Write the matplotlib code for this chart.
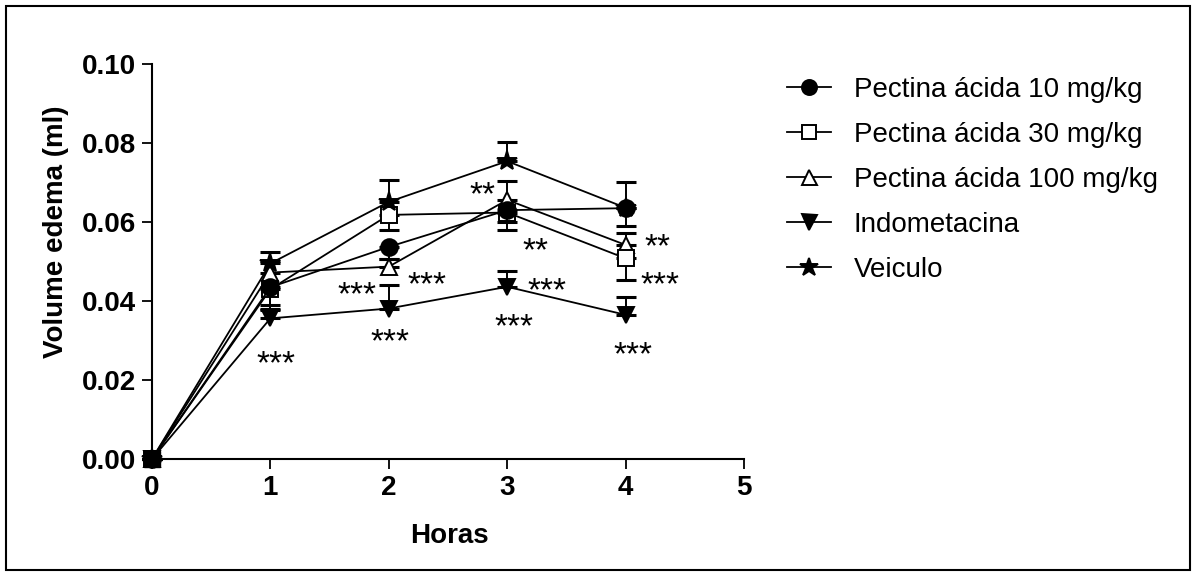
import matplotlib
matplotlib.use('Agg')
import matplotlib.pyplot as plt
from matplotlib.patches import Rectangle

plt.rcParams['font.family'] = ['Liberation Sans', 'DejaVu Sans']

# Data
hours = [0, 1, 2, 3, 4]

p10 = [0, 0.0435, 0.0537, 0.0630, 0.0635]
p10_lo = [0, 0.0045, 0.0030, 0.0030, 0.0044]

p30 = [0, 0.0430, 0.0618, 0.0624, 0.0508]
p30_lo = [0, 0.0050, 0.0037, 0.0043, 0.0055]

p100 = [0, 0.0472, 0.0487, 0.0656, 0.0542]
p100_hi = [0, 0.0030, 0.0020, 0.0048, 0.0030]

indo = [0, 0.0356, 0.0381, 0.0436, 0.0365]
indo_hi = [0, 0.0021, 0.0059, 0.0040, 0.0046]

veic = [0, 0.0495, 0.0651, 0.0754, 0.0636]
veic_hi = [0, 0.0030, 0.0055, 0.0049, 0.0066]

labels = ['Pectina ácida 10 mg/kg', 'Pectina ácida 30 mg/kg',
          'Pectina ácida 100 mg/kg', 'Indometacina', 'Veiculo']

# significance marks (text, x, y of ink centre)
sig_text = ['***', '***', '***', '***', '**', '**', '***', '***', '**', '***', '***']
sig_x = [1.05, 1.73, 2.32, 2.01, 2.79, 3.24, 3.34, 3.06, 4.27, 4.29, 4.06]
sig_y = [0.0266, 0.0441, 0.0466, 0.0322, 0.0694, 0.0553, 0.0451, 0.0359, 0.0563, 0.0466, 0.0289]

fig = plt.figure(figsize=(11.97, 5.76), dpi=100)
ax = fig.add_axes([152 / 1197, 1 - 459 / 576, 592 / 1197, 395 / 576])

lw = 1.3
common = dict(color='black', lw=lw, mew=1.4, clip_on=False)
err = dict(fmt='none', ecolor='black', elinewidth=1.4, capsize=7.5, capthick=2.2, clip_on=False)

ax.errorbar(hours, p100, yerr=[[0] * 5, p100_hi], zorder=2, **err)
ax.plot(hours, p100, marker='^', ms=12, mfc='white', mec='black', zorder=3, label=labels[2], **common)

ax.errorbar(hours, p30, yerr=[p30_lo, [0] * 5], zorder=4, **err)
ax.plot(hours, p30, marker='s', ms=11, mfc='white', mec='black', zorder=5, label=labels[1], **common)

ax.errorbar(hours, p10, yerr=[p10_lo, [0] * 5], zorder=6, **err)
ax.plot(hours, p10, marker='o', ms=12, mfc='black', mec='black', zorder=7, label=labels[0], **common)

ax.errorbar(hours, indo, yerr=[[0] * 5, indo_hi], zorder=8, **err)
ax.plot(hours, indo, marker='v', ms=12, mfc='black', mec='black', zorder=9, label=labels[3], **common)

ax.errorbar(hours, veic, yerr=[[0] * 5, veic_hi], zorder=10, **err)
ax.plot(hours, veic, marker='*', ms=15, mfc='black', mec='black', zorder=11, label=labels[4], **common)

# all series overlap at the origin -> shows as a solid block
ax.plot(hours[:1], p30[:1], marker='s', ms=11, color='black', ls='none', zorder=12, clip_on=False)

for t, x, y in zip(sig_text, sig_x, sig_y):
    ax.annotate(t, (x, y), xytext=(0, -14), textcoords='offset points',
                ha='center', va='baseline', fontsize=24)

ax.set_xlim(0, 5)
ax.set_ylim(0, 0.10)
ax.set_xticks([0, 1, 2, 3, 4, 5])
ax.set_yticks([0, 0.02, 0.04, 0.06, 0.08, 0.10])
ax.set_yticklabels(['0.00', '0.02', '0.04', '0.06', '0.08', '0.10'])
for s in ['top', 'right']:
    ax.spines[s].set_visible(False)
for s in ['left', 'bottom']:
    ax.spines[s].set_linewidth(1.5)
ax.tick_params(direction='out', length=7.5, width=1.3, labelsize=20, pad=4)
for lab in ax.get_xticklabels() + ax.get_yticklabels():
    lab.set_fontweight('bold')

fig.text(449 / 1197, 1 - 543 / 576, 'Horas', ha='center', va='baseline',
         fontsize=20, fontweight='bold')
fig.text(56 / 1197, 1 - 232 / 576, 'Volume edema (ml)', ha='center', va='center',
         rotation=90, fontsize=20, fontweight='bold')

handles, labs = ax.get_legend_handles_labels()
order = [labs.index(l) for l in labels]
ax.legend([handles[i] for i in order], [labs[i] for i in order],
          loc='upper left', bbox_to_anchor=(787 / 1197, 1 - 77 / 576),
          bbox_transform=fig.transFigure, frameon=False, fontsize=20,
          borderpad=0, borderaxespad=0, handlelength=1.6, handletextpad=0.8,
          labelspacing=0.68, markerscale=0.9)

fig.patches.append(Rectangle((6 / 1197, 6 / 576), 1184 / 1197, 564 / 576,
                             transform=fig.transFigure, fill=False,
                             edgecolor='black', lw=1.5))

fig.savefig('out.png', dpi=100)
